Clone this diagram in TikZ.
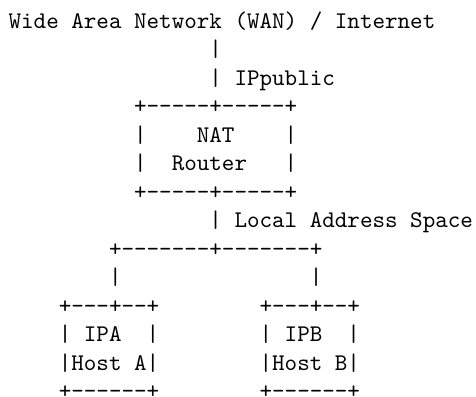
\documentclass[tikz,border=0pt]{standalone}
\usepackage{tikz}

% one text row of the ASCII drawing: row, column, node name, text
\tikzset{ascii/.style={font=\ttfamily\fontsize{10pt}{12pt}\selectfont, inner sep=0pt, outer sep=0pt, anchor=base west}}
\newcommand\asc[4]{\node[ascii] (#3) at ({3.6pt+#2*5.25pt},{-11.8pt-(#1-1)*11.92pt}) {#4};}
\newcommand\hb{-{}}
\newcommand\sk{\ }

\begin{document}
\begin{tikzpicture}
\useasboundingbox (0,0) rectangle (199.1pt,-166pt);

\asc{1}{0}{wan}{Wide Area Network (WAN) / Internet}
\asc{2}{16}{upl}{|}
\asc{3}{16}{pub}{|\sk IPpublic}
\asc{4}{10}{natTop}{+\hb\hb\hb\hb\hb+\hb\hb\hb\hb\hb+}
\asc{5}{10}{natA}{|\sk\sk\sk\sk NAT\sk\sk\sk\sk|}
\asc{6}{10}{natB}{|\sk\sk Router\sk\sk\sk|}
\asc{7}{10}{natBot}{+\hb\hb\hb\hb\hb+\hb\hb\hb\hb\hb+}
\asc{8}{16}{lan}{|\sk Local Address Space}
\asc{9}{8}{bus}{+\hb\hb\hb\hb\hb\hb\hb+\hb\hb\hb\hb\hb\hb\hb+}
\asc{10}{8}{dropA}{|}
\asc{10}{24}{dropB}{|}
\asc{11}{4}{aTop}{+\hb\hb\hb+\hb\hb+}
\asc{11}{20}{bTop}{+\hb\hb\hb+\hb\hb+}
\asc{12}{4}{aIp}{|\sk IPA\sk\sk|}
\asc{12}{20}{bIp}{|\sk IPB\sk\sk|}
\asc{13}{4}{aName}{|Host A|}
\asc{13}{20}{bName}{|Host B|}
\asc{14}{4}{aBot}{+\hb\hb\hb\hb\hb\hb+}
\asc{14}{20}{bBot}{+\hb\hb\hb\hb\hb\hb+}
\end{tikzpicture}
\end{document}
